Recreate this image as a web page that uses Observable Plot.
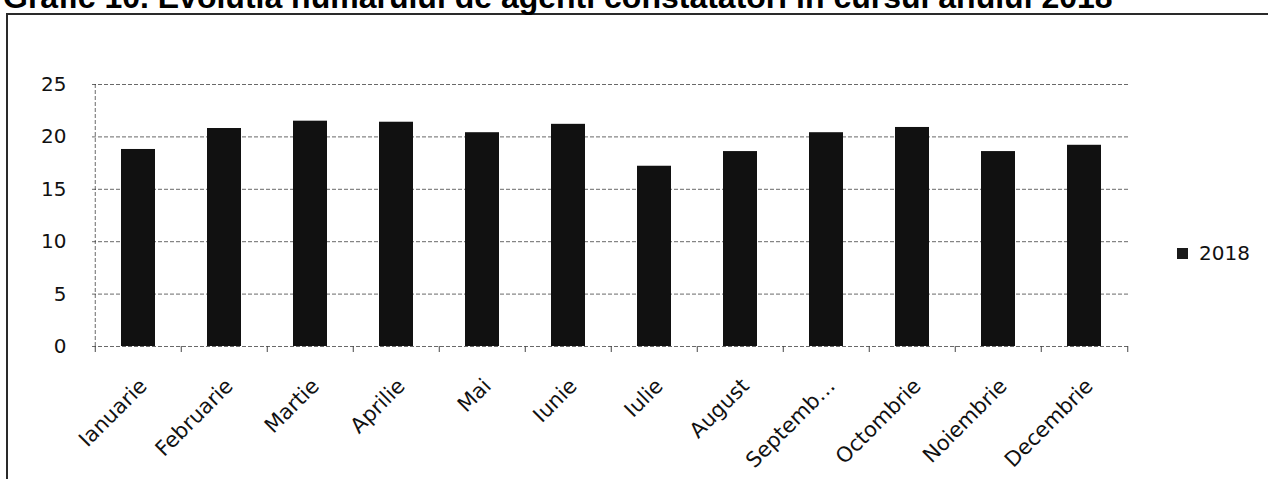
<!DOCTYPE html>
<html>
<head>
<meta charset="utf-8">
<script src="https://cdn.jsdelivr.net/npm/d3@7"></script>
<script src="https://cdn.jsdelivr.net/npm/@observablehq/plot@0.6"></script>
<style>
  html, body { margin: 0; padding: 0; background: #fff; }
  #page { position: relative; width: 1268px; height: 479px; overflow: hidden; background: #fff; }
  #frame { position: absolute; left: 6px; top: 13px; width: 1300px; height: 500px;
           border-left: 2px solid #2a2a2a; border-top: 2px solid #2a2a2a; }
  #title { position: absolute; left: 3px; top: -19px; white-space: nowrap;
           font-family: "Liberation Sans", Arial, sans-serif; font-weight: bold; font-size: 32px;
           line-height: 32px; color: #000; }
  #chart { position: absolute; left: 0; top: 0; }
  #legend { position: absolute; left: 1177px; top: 241px; display: flex; align-items: center;
            font-family: "DejaVu Sans", sans-serif; font-size: 20px; color: #111; }
  #legend .sw { width: 11px; height: 11px; background: #1a1a1a; margin-right: 11px; }
</style>
</head>
<body>
<div id="page">
  <div id="frame"></div>
  <div id="title"></div>
  <div id="chart"></div>
  <div id="legend"><span class="sw"></span><span id="legtext"></span></div>
</div>
<script>
const titleText = "Grafic 10. Evolutia numarului de agenti constatatori in cursul anului 2018";
const months = ["Ianuarie", "Februarie", "Martie", "Aprilie", "Mai", "Iunie",
                "Iulie", "August", "Septembrie", "Octombrie", "Noiembrie", "Decembrie"];
const monthLabels = ["Ianuarie", "Februarie", "Martie", "Aprilie", "Mai", "Iunie",
                     "Iulie", "August", "Septemb\u2026", "Octombrie", "Noiembrie", "Decembrie"];
const values2018 = [18.8, 20.8, 21.5, 21.4, 20.4, 21.2, 17.2, 18.6, 20.4, 20.9, 18.6, 19.2];
const seriesName = "2018";
const yTicks = [0, 5, 10, 15, 20, 25];

document.getElementById("title").textContent = titleText;
document.getElementById("legtext").textContent = seriesName;

const data = months.map((m, i) => ({month: m, value: values2018[i]}));
const labelOf = new Map(months.map((m, i) => [m, monthLabels[i]]));

const W = 1160, H = 479, mL = 92, mR = 30, mT = 84, mB = 133;
const step = (W - mL - mR) / months.length;
const gridStyle = {stroke: "#2a2a2a", strokeWidth: 1, strokeDasharray: "4,2", strokeOpacity: 0.7};

const chart = Plot.plot({
  width: W, height: H,
  marginLeft: mL, marginRight: mR, marginTop: mT, marginBottom: mB,
  style: {fontFamily: "DejaVu Sans, sans-serif", fontSize: "19px", color: "#111", background: "transparent", overflow: "visible"},
  x: {domain: months, paddingInner: 0.6, paddingOuter: 0.3, label: null},
  y: {domain: [0, 25], label: null},
  marks: [
    Plot.gridY(yTicks, gridStyle),
    Plot.ruleX([months[0]], {dx: -step / 2, ...gridStyle}),
    Plot.barY(data, {x: "month", y: "value", fill: "#111"}),
    Plot.axisY(yTicks, {tickSize: 0, tickPadding: 26, fontSize: 20, fill: "#111"}),
    Plot.axisX(months, {tickSize: 6, tickFormat: () => "", dx: -step / 2, stroke: "#444"}),
    Plot.axisX([months[months.length - 1]], {tickSize: 6, tickFormat: () => "", dx: step / 2, stroke: "#444"}),
    Plot.axisX(months, {tickSize: 0, tickPadding: 36, dx: 5, tickRotate: -45, fontSize: 21, fill: "#111",
                        tickFormat: m => labelOf.get(m)})
  ]
});
document.getElementById("chart").appendChild(chart);
</script>
</body>
</html>
